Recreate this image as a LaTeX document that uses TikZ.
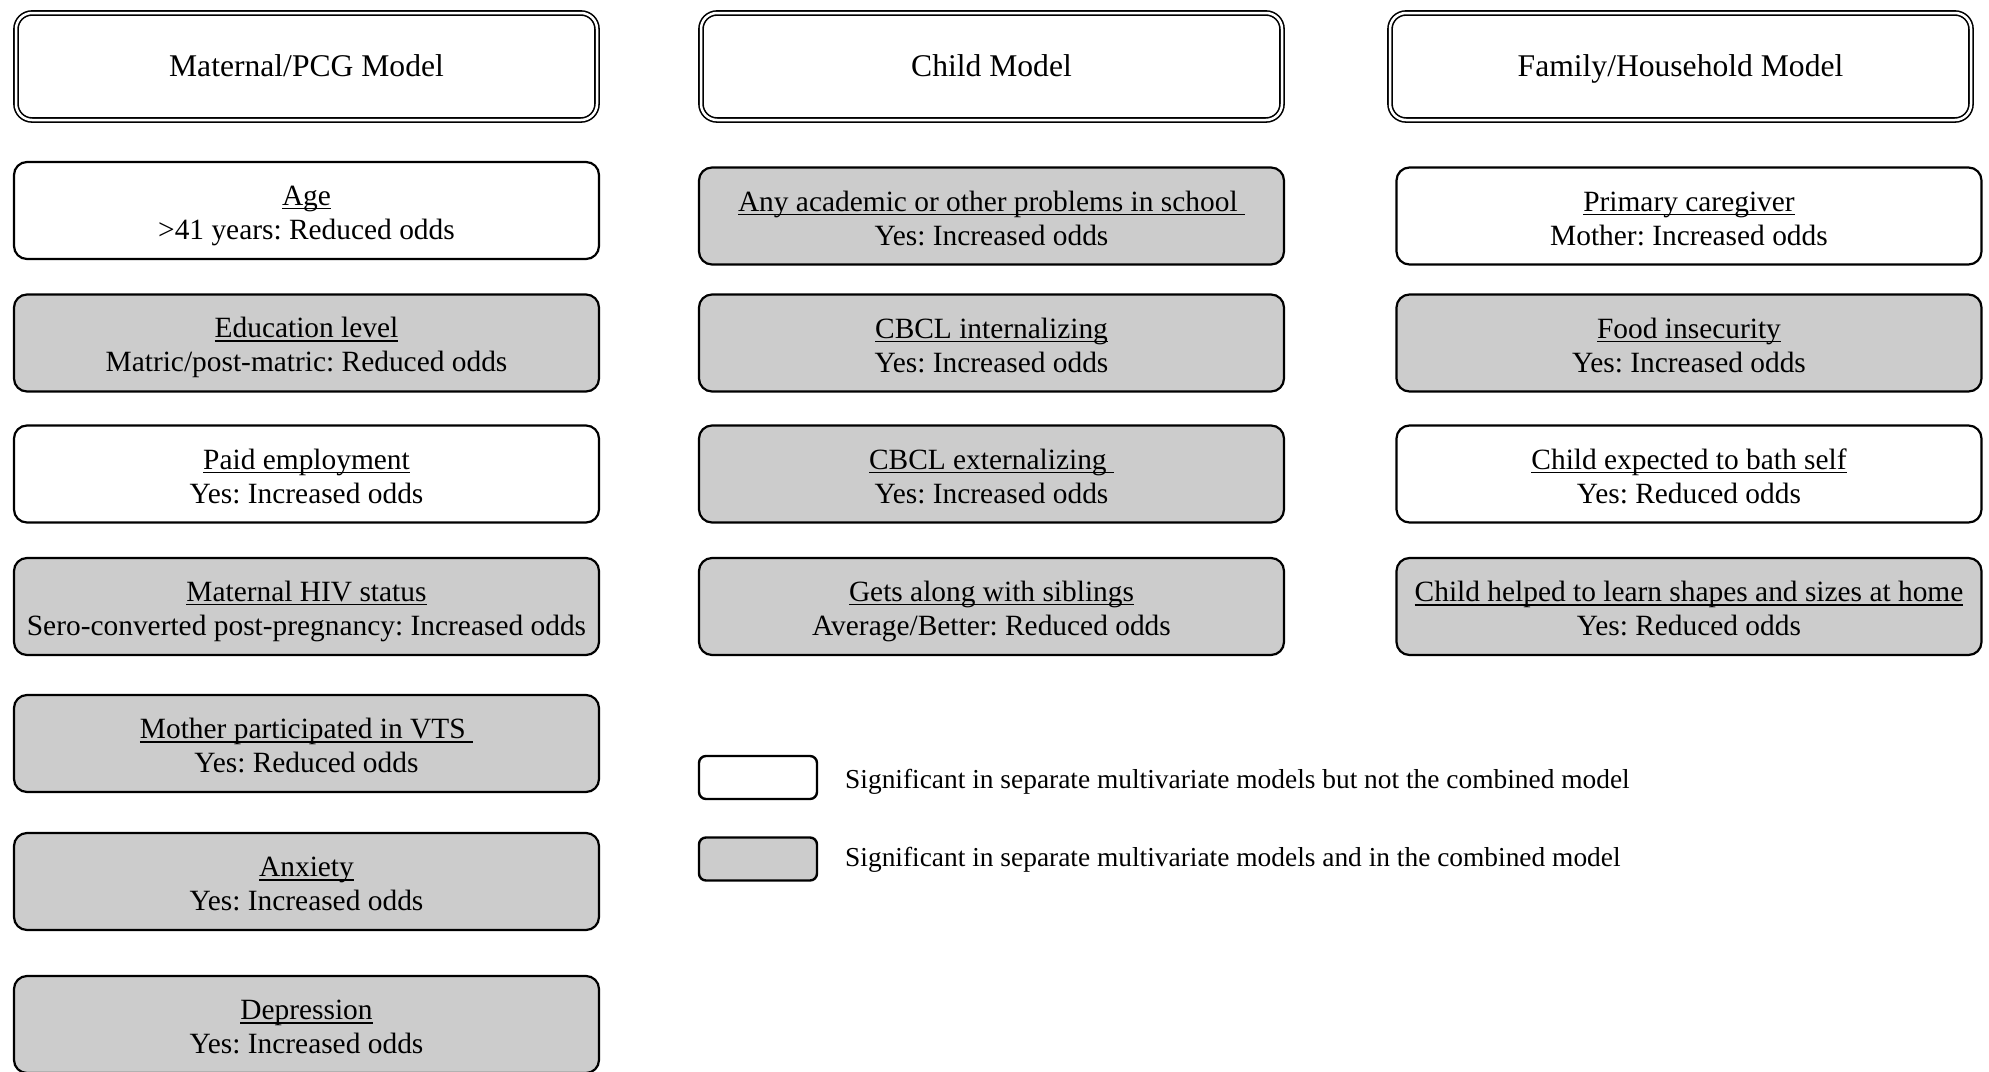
\documentclass[tikz,border=0pt]{standalone}
\usepackage{fontspec}
\setmainfont{Liberation Serif}
\frenchspacing
\definecolor{boxgray}{RGB}{204,204,204}
\newcommand{\undr}[1]{\setbox0\hbox{#1}\rlap{\rule[-4pt]{\wd0}{1.4pt}}\box0}
\newcommand{\factor}[2]{\rule{0pt}{30pt}\undr{#1}\\#2\rule[-6pt]{0pt}{6pt}}
\tikzset{
    sigbox/.style={draw, line width=2.2pt, rounded corners=13pt, minimum width=585pt,
        minimum height=97pt, inner sep=2pt, align=center, font=\fontsize{29.4}{34}\selectfont},
    bothbox/.style={sigbox, fill=boxgray},
    modelbox/.style={draw, line width=1.6pt, double, double distance=2.5pt, rounded corners=16pt,
        minimum width=581pt, minimum height=107pt, text height=21pt, text depth=0.5pt,
        font=\fontsize{31.6}{36}\selectfont},
    keybox/.style={draw, line width=2.4pt, rounded corners=7pt, minimum width=118pt, minimum height=43pt},
    keytext/.style={anchor=west, inner sep=0pt, font=\fontsize{27.4}{32}\selectfont}
}
\begin{document}
\begin{tikzpicture}[x=1pt, y=-1pt]
        \useasboundingbox (0,0) rectangle (1989,1071);

        \node[modelbox] (maternal) at (306.5,66.5) {Maternal/PCG Model};
        \node[modelbox] (child) at (991.5,66.5) {Child Model};
        \node[modelbox] (family) at (1680.5,66.5) {Family/Household Model};

        \node[sigbox] (age) at (306.5,210.5) {\factor{Age}{>41 years: Reduced odds}};
        \node[bothbox] (educ) at (306.5,343) {\factor{Education level}{Matric/post-matric: Reduced odds}};
        \node[sigbox] (employ) at (306.5,474) {\factor{Paid employment}{Yes: Increased odds}};
        \node[bothbox] (hiv) at (306.5,606.5) {\factor{Maternal HIV status}{Sero-converted post-pregnancy: Increased odds}};
        \node[bothbox] (vts) at (306.5,743.5) {\factor{Mother participated in VTS\ }{Yes: Reduced odds}};
        \node[bothbox] (anx) at (306.5,881.5) {\factor{Anxiety}{Yes: Increased odds}};
        \node[bothbox] (depr) at (306.5,1024.5) {\factor{Depression}{Yes: Increased odds}};

        \node[bothbox] (school) at (991.5,216) {\factor{Any academic or other problems in school\ }{Yes: Increased odds}};
        \node[bothbox] (cbclint) at (991.5,343) {\factor{CBCL internalizing}{Yes: Increased odds}};
        \node[bothbox] (cbclext) at (991.5,474) {\factor{CBCL externalizing\ }{Yes: Increased odds}};
        \node[bothbox] (sibs) at (991.5,606.5) {\factor{Gets along with siblings}{Average/Better: Reduced odds}};

        \node[sigbox] (carer) at (1689,216) {\factor{Primary caregiver}{Mother: Increased odds}};
        \node[bothbox] (food) at (1689,343) {\factor{Food insecurity}{Yes: Increased odds}};
        \node[sigbox] (bath) at (1689,474) {\factor{Child expected to bath self}{Yes: Reduced odds}};
        \node[bothbox] (shapes) at (1689,606.5) {\factor{Child helped to learn shapes and sizes at home}{Yes: Reduced odds}};

        \node[keybox] (keysep) at (758,777.5) {};
        \node[keybox, fill=boxgray] (keyboth) at (758,859) {};
        \node[keytext] (keyseptext) at (845,782) {Significant in separate multivariate models but not the combined model};
        \node[keytext] (keybothtext) at (845,860) {Significant in separate multivariate models and in the combined model};
    \end{tikzpicture}
\end{document}
